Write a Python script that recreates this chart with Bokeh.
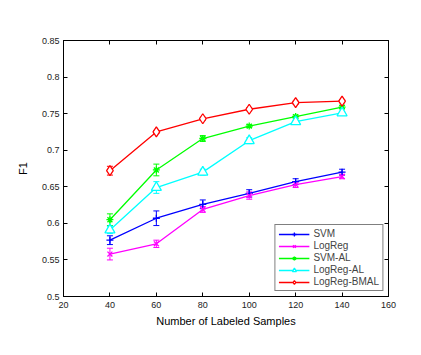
from bokeh.plotting import figure
from bokeh.models import (ColumnDataSource, Whisker, TeeHead, LinearAxis, Range1d,
                          FixedTicker, Legend, LegendItem)
from bokeh.embed import file_html
from bokeh.resources import INLINE

x = [40, 60, 80, 100, 120, 140]
svm = [0.577, 0.607, 0.626, 0.641, 0.657, 0.670]
svm_err = [0.006, 0.010, 0.006, 0.005, 0.004, 0.004]
logreg = [0.558, 0.572, 0.619, 0.638, 0.653, 0.664]
logreg_err = [0.008, 0.005, 0.004, 0.005, 0.004, 0.003]
svm_al = [0.605, 0.673, 0.716, 0.733, 0.746, 0.759]
svm_al_err = [0.008, 0.008, 0.004, 0.002, 0.002, 0.002]
logreg_al = [0.591, 0.649, 0.670, 0.713, 0.739, 0.751]
logreg_al_err = [0.005, 0.008, 0.004, 0.004, 0.002, 0.002]
bmal = [0.672, 0.725, 0.743, 0.756, 0.765, 0.767]
bmal_err = [0.006, 0.002, 0.002, 0.002, 0.002, 0.002]

names = ["SVM", "LogReg", "SVM-AL", "LogReg-AL", "LogReg-BMAL"]
colors = ["#0000ff", "#ff00ff", "#00ff00", "#00ffff", "#ff0000"]
markers = ["cross", "x", "asterisk", "triangle", "diamond"]
series = [svm, logreg, svm_al, logreg_al, bmal]
errs = [svm_err, logreg_err, svm_al_err, logreg_al_err, bmal_err]

x_ticks = [20, 40, 60, 80, 100, 120, 140, 160]
y_ticks = [0.5, 0.55, 0.6, 0.65, 0.7, 0.75, 0.8, 0.85]
y_tick_labels = ["0.5", "0.55", "0.6", "0.65", "0.7", "0.75", "0.8", "0.85"]

FONT = "Liberation Sans"

p = figure(width=405, height=339, output_backend="svg", toolbar_location=None,
           x_range=Range1d(20, 160), y_range=Range1d(0.5, 0.85),
           min_border_left=63, min_border_top=40, min_border_right=17, min_border_bottom=43,
           x_axis_label="Number of Labeled Samples", y_axis_label="F1")
p.xgrid.visible = False
p.ygrid.visible = False
p.outline_line_color = "black"
p.outline_line_width = 1
p.background_fill_color = "white"
p.border_fill_color = "white"

p.xaxis.ticker = FixedTicker(ticks=x_ticks)
p.yaxis.ticker = FixedTicker(ticks=y_ticks)
p.yaxis.major_label_overrides = dict(zip(y_ticks, y_tick_labels))

for ax in [p.xaxis[0], p.yaxis[0]]:
    ax.major_tick_in = 4
    ax.major_tick_out = 0
    ax.minor_tick_in = 0
    ax.minor_tick_out = 0
    ax.axis_line_color = "black"
    ax.major_tick_line_color = "black"
    ax.major_label_text_font = FONT
    ax.major_label_text_font_size = "9px"
    ax.major_label_text_color = "#222222"
    ax.axis_label_text_font = FONT
    ax.axis_label_text_font_size = "11px"
    ax.axis_label_text_font_style = "normal"
    ax.axis_label_text_color = "black"
p.xaxis.major_label_standoff = 5
p.yaxis.major_label_standoff = 4
p.xaxis.axis_label_standoff = 4
p.yaxis.axis_label_standoff = 10

ax_r = LinearAxis(ticker=FixedTicker(ticks=y_ticks),
                  major_label_overrides={t: "" for t in y_ticks},
                  major_tick_in=4, major_tick_out=0, minor_tick_in=0, minor_tick_out=0)
ax_t = LinearAxis(ticker=FixedTicker(ticks=x_ticks),
                  major_label_overrides={t: "" for t in x_ticks},
                  major_tick_in=4, major_tick_out=0, minor_tick_in=0, minor_tick_out=0)
p.add_layout(ax_r, "right")
p.add_layout(ax_t, "above")

items = []
for name, col, mk, ys, es in zip(names, colors, markers, series, errs):
    src = ColumnDataSource(dict(x=x, y=ys,
                                lo=[a - b for a, b in zip(ys, es)],
                                hi=[a + b for a, b in zip(ys, es)]))
    w = Whisker(source=src, base="x", lower="lo", upper="hi", line_color=col, line_width=1,
                upper_head=TeeHead(size=6, line_color=col, line_width=1),
                lower_head=TeeHead(size=6, line_color=col, line_width=1))
    p.add_layout(w)
    ln = p.line("x", "y", source=src, line_color=col, line_width=1.3)
    mfill = "white" if mk in ("triangle", "diamond") else col
    sz = 10 if mk in ("triangle", "diamond") else 7
    sc = p.scatter("x", "y", source=src, marker=mk, size=sz, line_color=col,
                   fill_color=mfill, line_width=1.3)
    items.append(LegendItem(label=name, renderers=[ln, sc]))

legend = Legend(items=items, location="bottom_right")
legend.label_text_font = FONT
legend.label_text_font_size = "10px"
legend.label_height = 10
legend.glyph_height = 10
legend.glyph_width = 31
legend.spacing = 1
legend.padding = 3
legend.margin = 5
legend.border_line_color = "black"
legend.border_line_width = 1
legend.label_standoff = 4
p.add_layout(legend, "center")

open("out.html", "w").write(file_html(p, INLINE))
